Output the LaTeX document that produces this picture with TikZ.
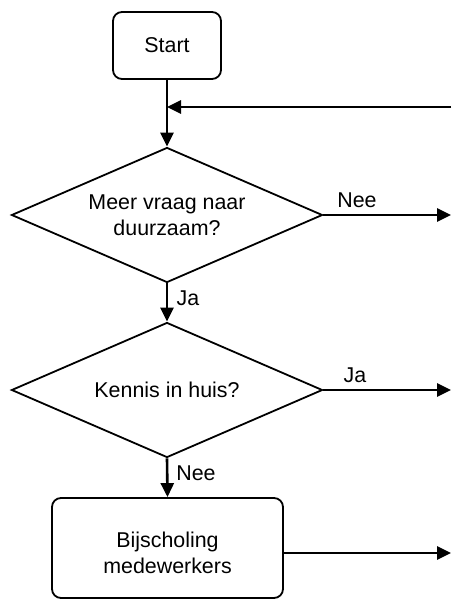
\documentclass[tikz,border=0pt]{standalone}
\usepackage{fontspec}
\setmainfont{Liberation Sans}
\usetikzlibrary{shapes.geometric,arrows.meta}

\begin{document}
\begin{tikzpicture}[x=1pt,y=-1pt,
  every node/.style={font=\fontsize{21.4}{26}\selectfont},
  proc/.style={draw, line width=1.8pt, rounded corners=9pt, align=center, inner sep=0pt},
  decision/.style={draw, line width=1.8pt, diamond, aspect=2.3, inner sep=0pt,
    minimum width=311pt, minimum height=135pt, align=center},
  flow/.style={line width=2.6pt, -{Triangle[length=14pt,width=13pt]}},
  lbl/.style={inner sep=0pt, anchor=base}
]
\useasboundingbox (0,0) rectangle (451,600);

% process boxes and decisions
\node[proc, minimum width=108pt, minimum height=67pt] (start) at (167,45.5) {Start};
\node[decision] (d1) at (167,215) {Meer vraag naar\\duurzaam?};
\node[decision] (d2) at (167,390) {Kennis in huis?};
\node[proc, minimum width=231pt, minimum height=100pt] (train) at (167.5,548) {};
\node[inner sep=0pt, align=center] (traintext) at (167.5,553) {Bijscholing\\medewerkers};

% loose ends at the right border
\coordinate (back) at (451,107);
\coordinate (outA) at (451,215);
\coordinate (outB) at (451,390);
\coordinate (outC) at (451,553);

% connectors
\draw[flow] (start.south) -- (d1.north);
\draw[flow] (back) -- (back -| start.south);
\draw[flow] (d1.east) -- (outA);
\draw[flow] (d1.south) -- (d2.north);
\draw[flow] (d2.east) -- (outB);
\draw[flow] (d2.south) -- (train.north);
\draw[flow] (outC -| train.east) -- (outC);

% branch labels
\node[lbl] (l1) at (357,207) {Nee};
\node[lbl] (l2) at (188,305) {Ja};
\node[lbl] (l3) at (355,382) {Ja};
\node[lbl] (l4) at (196,480) {Nee};
\end{tikzpicture}
\end{document}
